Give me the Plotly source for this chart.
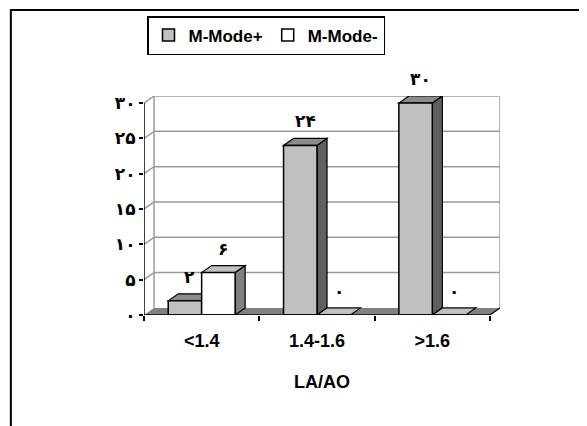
import plotly.graph_objects as go

# ---- data ----
categories = ["<1.4", "1.4-1.6", ">1.6"]
series_names = ["M-Mode+", "M-Mode-"]
mmode_plus = [2, 24, 30]
mmode_minus = [6, 0, 0]
y_ticks = [0, 5, 10, 15, 20, 25, 30]
y_tick_labels = ["۰", "۵", "۱۰", "۱۵", "۲۰", "۲۵", "۳۰"]
labels_plus = ["۲", "۲۴", "۳۰"]
labels_minus = ["۶", "۰", "۰"]
x_title = "LA/AO"

# ---- styling ----
front_colors = ["#C0C0C0", "#FFFFFF"]
top_colors = ["#8C8C8C", "#C0C0C0"]
side_colors = ["#606060", "#808080"]
grid_color = "#9A9A9A"
floor_color = "#808080"
bargap = 0.42
dx = 0.087   # depth offset, category units
dy = 1.0     # depth offset, value units
ymax = max(y_ticks)

series_vals = [mmode_plus, mmode_minus]
series_labels = [labels_plus, labels_minus]

fig = go.Figure()
for s, (name, vals) in enumerate(zip(series_names, series_vals)):
    fig.add_trace(go.Bar(
        x=categories, y=vals, name=name,
        marker=dict(color=front_colors[s], line=dict(color="black", width=1.5)),
        hoverinfo="skip",
    ))

shapes = []
xl, xr = -0.5, len(categories) - 0.5

def path(pts):
    return "M " + " L ".join(f"{x},{y}" for x, y in pts) + " Z"

# floor
shapes.append(dict(type="path", xref="x", yref="y", layer="below",
                   path=path([(xl, 0), (xr, 0), (xr + dx, dy), (xl + dx, dy)]),
                   fillcolor=floor_color, line=dict(width=0)))
# back wall gridlines
for v in y_ticks[1:]:
    shapes.append(dict(type="line", xref="x", yref="y", layer="below",
                       x0=xl + dx, x1=xr + dx, y0=v + dy, y1=v + dy,
                       line=dict(color=grid_color, width=1.5)))
# left wall diagonals
for v in y_ticks[1:]:
    shapes.append(dict(type="line", xref="x", yref="y", layer="below",
                       x0=xl, x1=xl + dx, y0=v, y1=v + dy,
                       line=dict(color=grid_color, width=1.5)))
# wall vertical edges
for xv in (xl + dx, xr + dx):
    shapes.append(dict(type="line", xref="x", yref="y", layer="below",
                       x0=xv, x1=xv, y0=dy, y1=ymax + dy,
                       line=dict(color=grid_color, width=1.5)))

# 3D bar faces
bw = (1 - bargap) / 2
annotations = []
for s, vals in enumerate(series_vals):
    for i, v in enumerate(vals):
        x0 = i - (1 - bargap) / 2 + s * bw
        x1 = x0 + bw
        if v > 0:
            shapes.append(dict(type="path", xref="x", yref="y", layer="below",
                               path=path([(x1, 0), (x1 + dx, dy), (x1 + dx, v + dy), (x1, v)]),
                               fillcolor=side_colors[s], line=dict(color="black", width=1.2)))
        shapes.append(dict(type="path", xref="x", yref="y", layer="below",
                           path=path([(x0, v), (x1, v), (x1 + dx, v + dy), (x0 + dx, v + dy)]),
                           fillcolor=top_colors[s], line=dict(color="black", width=1.2)))
        annotations.append(dict(x=(x0 + x1) / 2 + dx / 2, y=v + dy, xref="x", yref="y",
                                text=series_labels[s][i], showarrow=False,
                                yanchor="bottom", yshift=5,
                                font=dict(family="DejaVu Sans", size=17, color="black", weight="bold")))

# axis lines
shapes.append(dict(type="line", xref="x", yref="y", layer="above",
                   x0=xl, x1=xl, y0=0, y1=ymax, line=dict(color="black", width=1.5)))
shapes.append(dict(type="line", xref="x", yref="y", layer="above",
                   x0=xl, x1=xr, y0=0, y1=0, line=dict(color="black", width=1.5)))
shapes.append(dict(type="line", xref="x", yref="y", layer="above",
                   x0=xr, x1=xr + dx, y0=0, y1=dy, line=dict(color="black", width=1.2)))
# outer chart border (right and bottom edges lie outside the picture)
shapes.append(dict(type="rect", xref="paper", yref="paper", layer="above",
                   x0=-0.374, x1=1.6, y0=-0.9, y1=1.393,
                   line=dict(color="black", width=2), fillcolor="rgba(0,0,0,0)"))

fig.update_layout(
    width=579, height=418, autosize=False,
    margin=dict(l=136, r=87, t=88, b=111),
    paper_bgcolor="white", plot_bgcolor="white",
    barmode="group", bargap=bargap, bargroupgap=0,
    shapes=shapes, annotations=annotations,
    showlegend=True,
    legend=dict(orientation="h", xref="container", yref="container",
                x=139 / 579, y=1 - 8 / 418, xanchor="left", yanchor="top",
                bgcolor="white", bordercolor="black", borderwidth=1.5,
                font=dict(family="Liberation Sans", size=17, color="black", weight="bold"),
                itemwidth=30, tracegroupgap=0),
    xaxis=dict(type="category", range=[xl, xr + dx], showgrid=False, zeroline=False,
               showline=False, tickson="boundaries", ticks="outside", ticklen=5,
               tickcolor="black", tickwidth=1.5, ticklabelstandoff=13,
               tickfont=dict(family="Liberation Sans", size=18, color="black", weight="bold"),
               title=dict(text=x_title, standoff=25,
                          font=dict(family="Liberation Sans", size=18, color="black", weight="bold"))),
    yaxis=dict(range=[0, ymax + dy], showgrid=False, zeroline=False, showline=False,
               tickvals=y_ticks, ticktext=y_tick_labels, ticks="outside", ticklen=4,
               tickcolor="black", tickwidth=1.5,
               tickfont=dict(family="DejaVu Sans", size=17, color="black", weight="bold")),
)

fig.write_html("out.html")
